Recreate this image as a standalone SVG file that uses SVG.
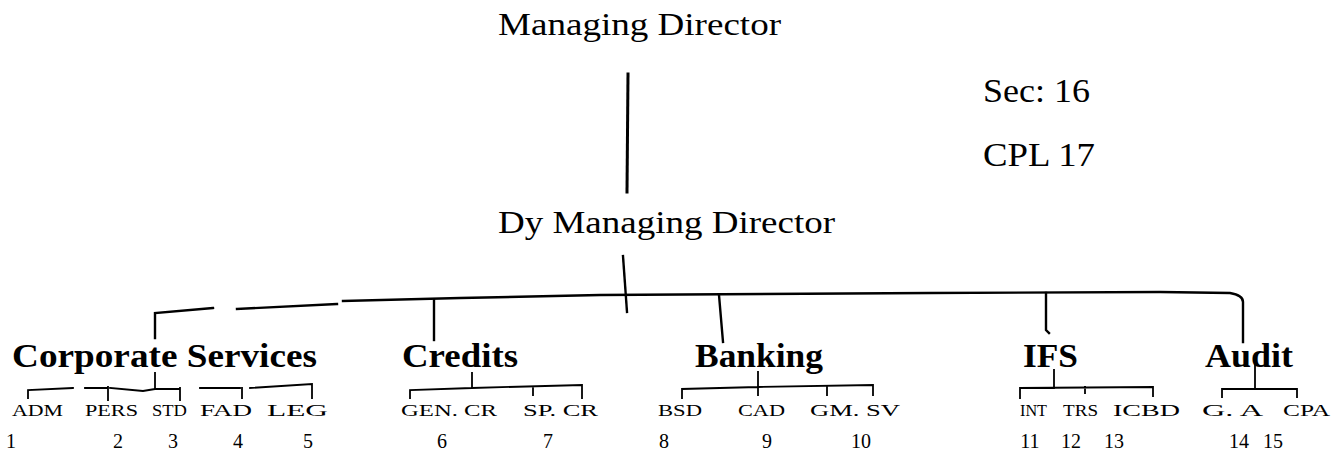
<svg xmlns="http://www.w3.org/2000/svg" width="1344" height="471" viewBox="0 0 1344 471">
<style>
.t{font-family:"Liberation Serif","Times New Roman",serif;fill:#000}
.big{font-size:32px}
.sec{font-size:33px}
.b{font-size:34px;font-weight:bold}
.s{font-size:17px}
.n{font-size:20px;text-anchor:middle}
.c{fill:none;stroke:#000;stroke-linecap:square;stroke-linejoin:miter}
.w3{stroke-width:3}
.w2{stroke-width:2.4}
.w1{stroke-width:1.8}
</style>
<rect width="1344" height="471" fill="#fff"/>
<g id="connectors">
<path class="c w3" d="M628,74 L627,192"/>
<path class="c w2" d="M623,256 L627,312"/>
<path class="c w2" d="M155,338 L155,313 L213,308 M237,309 L337,304 M343,301 L460,298 L600,295 L930,293 L1160,292 L1230,293 Q1243,295 1243,302 L1243,342"/>
<path class="c w2" d="M434,300 L434,340"/>
<path class="c w2" d="M719,295 L723,342"/>
<path class="c w2" d="M1046,293 L1046,330 L1049,333"/>
<path class="c w1" d="M155,373 L155,389 M28,398 L28,390 L73,388 M85,388 L107,388 M110,388 L143,391 L155,389 L180,389 M200,388 L240,388 M250,388 L312,384 L312,398 M108,387 L108,400 M180,388 L180,400 M242,388 L242,398"/>
<path class="c w1" d="M472,373 L472,387 M410,398 L410,390 L472,388 L582,385 L582,398 M533,387 L533,395"/>
<path class="c w1" d="M758,372 L758,395 M682,398 L682,389 L758,387 L873,385 L873,395 M827,386 L827,395"/>
<path class="c w1" d="M1054,370 L1054,388 M1020,398 L1020,388 L1153,387 L1153,396 M1085,387 L1085,393"/>
<path class="c w1" d="M1255,363 L1255,389 M1222,397 L1222,389 L1297,389 L1297,397"/>
</g>
<g id="md"><text class="t big" x="498" y="35" textLength="283" lengthAdjust="spacingAndGlyphs">Managing Director</text></g>
<g id="dymd"><text class="t big" x="498" y="233" textLength="337" lengthAdjust="spacingAndGlyphs">Dy Managing Director</text></g>
<g id="sec"><text class="t sec" x="983" y="102" textLength="107" lengthAdjust="spacingAndGlyphs">Sec: 16</text></g>
<g id="cpl"><text class="t sec" x="983" y="166" textLength="112" lengthAdjust="spacingAndGlyphs">CPL 17</text></g>
<g id="corporate"><text class="t b" x="12" y="367" textLength="305" lengthAdjust="spacingAndGlyphs">Corporate Services</text></g>
<g id="credits"><text class="t b" x="402" y="367" textLength="116" lengthAdjust="spacingAndGlyphs">Credits</text></g>
<g id="banking"><text class="t b" x="695" y="367" textLength="128" lengthAdjust="spacingAndGlyphs">Banking</text></g>
<g id="ifs"><text class="t b" x="1023" y="367" textLength="55" lengthAdjust="spacingAndGlyphs">IFS</text></g>
<g id="audit"><text class="t b" x="1205" y="367" textLength="88" lengthAdjust="spacingAndGlyphs">Audit</text></g>
<g id="adm"><text class="t s" x="12" y="416" textLength="51" lengthAdjust="spacingAndGlyphs">ADM</text><text class="t n" x="11" y="448">1</text></g>
<g id="pers"><text class="t s" x="85" y="416" textLength="53" lengthAdjust="spacingAndGlyphs">PERS</text><text class="t n" x="118" y="448">2</text></g>
<g id="std"><text class="t s" x="152" y="416" textLength="35" lengthAdjust="spacingAndGlyphs">STD</text><text class="t n" x="173" y="448">3</text></g>
<g id="fad"><text class="t s" x="200" y="416" textLength="52" lengthAdjust="spacingAndGlyphs">FAD</text><text class="t n" x="238" y="448">4</text></g>
<g id="leg"><text class="t s" x="267" y="416" textLength="61" lengthAdjust="spacingAndGlyphs">LEG</text><text class="t n" x="308" y="448">5</text></g>
<g id="gencr"><text class="t s" x="401" y="416" textLength="96" lengthAdjust="spacingAndGlyphs">GEN. CR</text><text class="t n" x="442" y="448">6</text></g>
<g id="spcr"><text class="t s" x="523" y="416" textLength="75" lengthAdjust="spacingAndGlyphs">SP. CR</text><text class="t n" x="548" y="448">7</text></g>
<g id="bsd"><text class="t s" x="658" y="416" textLength="44" lengthAdjust="spacingAndGlyphs">BSD</text><text class="t n" x="664" y="448">8</text></g>
<g id="cad"><text class="t s" x="738" y="416" textLength="47" lengthAdjust="spacingAndGlyphs">CAD</text><text class="t n" x="767" y="448">9</text></g>
<g id="gmsv"><text class="t s" x="810" y="416" textLength="90" lengthAdjust="spacingAndGlyphs">GM. SV</text><text class="t n" x="861" y="448">10</text></g>
<g id="int"><text class="t s" x="1020" y="416" textLength="27" lengthAdjust="spacingAndGlyphs">INT</text><text class="t n" x="1030" y="448">11</text></g>
<g id="trs"><text class="t s" x="1063" y="416" textLength="35" lengthAdjust="spacingAndGlyphs">TRS</text><text class="t n" x="1071" y="448">12</text></g>
<g id="icbd"><text class="t s" x="1113" y="416" textLength="67" lengthAdjust="spacingAndGlyphs">ICBD</text><text class="t n" x="1114" y="448">13</text></g>
<g id="ga"><text class="t s" x="1202" y="416" textLength="61" lengthAdjust="spacingAndGlyphs">G. A</text><text class="t n" x="1239" y="448">14</text></g>
<g id="cpa"><text class="t s" x="1283" y="416" textLength="47" lengthAdjust="spacingAndGlyphs">CPA</text><text class="t n" x="1273" y="448">15</text></g>
</svg>
